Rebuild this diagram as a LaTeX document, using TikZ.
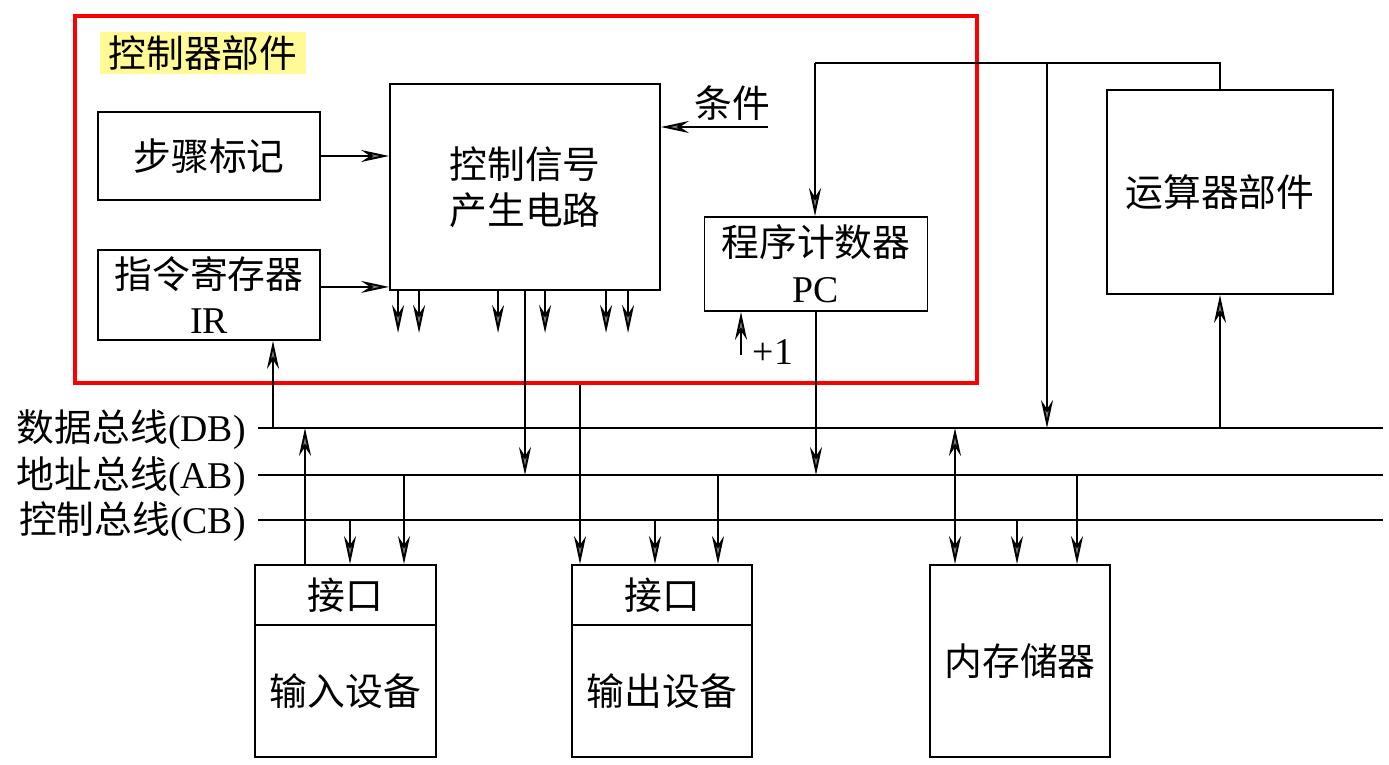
\documentclass[tikz,border=0pt]{standalone}
\usepackage{fontspec}
\setmainfont{Liberation Serif}
\newfontfamily\cjk{Noto Sans CJK SC}
\usetikzlibrary{arrows.meta, positioning}
\definecolor{MarkYellow}{RGB}{255,250,150}
\definecolor{FrameRed}{RGB}{250,0,0}
\tikzset{
    unitbox/.style={
        rectangle,
        draw=black,
        fill=white,
        line width=1.1pt,
        align=center,
        inner sep=2pt,
        font=\cjk\fontsize{21.5}{26}\selectfont
    },
    marklabel/.style={
        fill=MarkYellow,
        inner xsep=5pt,
        inner ysep=2pt,
        font=\cjk\fontsize{21.5}{26}\selectfont
    },
    plaintext/.style={
        inner sep=1pt,
        font=\cjk\fontsize{21.5}{26}\selectfont
    },
    buslabel/.style={
        anchor=east,
        inner sep=0pt,
        font=\cjk\fontsize{21.5}{26}\selectfont
    },
    busline/.style={line width=1.3pt},
    wire/.style={line width=1pt},
    frame/.style={draw=FrameRed, line width=2.8pt},
    arrow/.style={
        -{Stealth[length=5.6mm, width=2.4mm, inset=1.8mm, fill=gray]},
        line width=1.1pt
    },
    biarrow/.style={
        {Stealth[length=5.6mm, width=2.4mm, inset=1.8mm, fill=gray]}-{Stealth[length=5.6mm, width=2.4mm, inset=1.8mm, fill=gray]},
        line width=1.1pt
    }
}
\begin{document}
\begin{tikzpicture}[x=0.02cm, y=-0.02cm]
    \useasboundingbox (0,0) rectangle (1389,764);

    % control unit
    \draw[frame] (75,16) rectangle (977,383);
    \node[marklabel] (cutitle) at (203,53) {控制器部件};
    \node[unitbox, minimum width=4.44cm, minimum height=1.76cm] (step) at (209,156) {步骤标记};
    \node[unitbox, minimum width=4.44cm, minimum height=1.8cm, below=0.96cm of step] (ir) {指令寄存器\\{\rmfamily IR}};
    \node[unitbox, minimum width=5.4cm, minimum height=4.12cm] (sig) at (525,187) {控制信号\\产生电路};
    \node[unitbox, minimum width=4.46cm, minimum height=1.88cm] (pc) at (816,264) {程序计数器\\{\rmfamily PC}};
    \node[plaintext] (cond) at (732,103) {条件};
    \node[plaintext, font=\fontsize{21.5}{26}\selectfont] (plusone) at (773,352) {+1};

    % other units
    \node[unitbox, minimum width=4.52cm, minimum height=4.08cm] (alu) at (1220,192) {运算器部件};
    \node[unitbox, minimum width=3.62cm, minimum height=1.2cm] (inif) at (345.5,595) {接口};
    \node[unitbox, minimum width=3.62cm, minimum height=2.64cm, below=-1.1pt of inif] (indev) {输入设备};
    \node[unitbox, minimum width=3.6cm, minimum height=1.2cm] (outif) at (662,595) {接口};
    \node[unitbox, minimum width=3.6cm, minimum height=2.64cm, below=-1.1pt of outif] (outdev) {输出设备};
    \node[unitbox, minimum width=3.6cm, minimum height=3.84cm] (mem) at (1020,661) {内存储器};

    % buses
    \coordinate (dbw) at (258,428); \coordinate (dbe) at (1383,428);
    \coordinate (abw) at (258,475); \coordinate (abe) at (1383,475);
    \coordinate (cbw) at (258,520); \coordinate (cbe) at (1383,520);
    \draw[busline] (dbw) -- (dbe);
    \draw[busline] (abw) -- (abe);
    \draw[busline] (cbw) -- (cbe);
    \node[buslabel] (dbtxt) at (246,430) {数据总线{\rmfamily (DB)}};
    \node[buslabel] (abtxt) at (246,477) {地址总线{\rmfamily (AB)}};
    \node[buslabel] (cbtxt) at (246,522) {控制总线{\rmfamily (CB)}};

    % inside the control unit
    \draw[arrow] (step.east) -- (step.east -| sig.west);
    \draw[arrow] ([yshift=0.16cm]ir.east) -- ([yshift=0.16cm]ir.east -| sig.west);
    \coordinate (condend) at (768,127);
    \draw[wire] (condend) -- (695,127);
    \draw[arrow] (695,127) -- (695,127 -| sig.east);
    \foreach \dx in {9,30,109,156,217,239}
        \draw[arrow] ([xshift=\dx*0.02cm]sig.south west) -- ++(0,42);
    \draw[arrow] (sig.south) -- (sig.south |- abw);
    \coordinate (ctlout) at (580,385);
    \draw[arrow] (ctlout) -- (ctlout |- outif.north);

    % program counter and alu
    \coordinate (pctop) at (815,63);
    \coordinate (dbtap) at (1047,63);
    \coordinate (alutop) at (1220,63);
    \draw[wire] (pctop) -- (alutop) -- (alu.north);
    \draw[arrow] (pctop) -- (pctop |- pc.north);
    \draw[arrow] (dbtap) -- (dbtap |- dbw);
    \draw[arrow] (pc.south) -- (pc.south |- abw);
    \coordinate (incr) at (741,355);
    \draw[arrow] (incr) -- (incr |- pc.south);
    \draw[arrow] (alu.south |- dbw) -- (alu.south);

    % bus taps
    \coordinate (irtap) at (273,428);
    \draw[arrow] (irtap) -- (irtap |- ir.south);
    \coordinate (intap) at (305,428);
    \draw[arrow] (intap |- inif.north) -- (intap);
    \coordinate (memtap) at (955,428);
    \draw[biarrow] (memtap) -- (memtap |- mem.north);
    \foreach \x/\bb/\dev in {350/cbw/inif, 404/abw/inif, 655/cbw/outif, 718/abw/outif, 1017/cbw/mem, 1077/abw/mem} {
        \coordinate (tap) at (\x,0);
        \draw[arrow] (tap |- \bb) -- (tap |- \dev.north);
    }
\end{tikzpicture}
\end{document}
